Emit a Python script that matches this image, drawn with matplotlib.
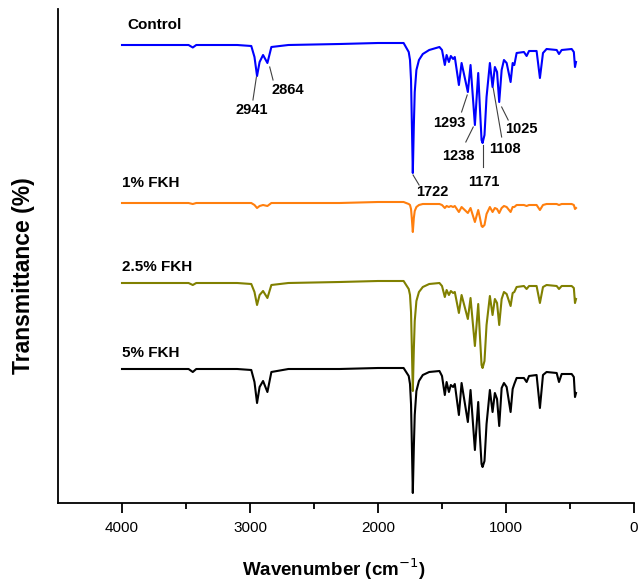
import matplotlib
matplotlib.use('Agg')
import matplotlib.pyplot as plt
import numpy as np

plt.rcParams['font.family'] = ['Liberation Sans', 'DejaVu Sans']

# wavenumber of the read-off points (cm-1)
wn = [4000, 3700, 3480, 3447, 3420, 3100, 2990, 2965, 2945, 2925, 2898, 2864, 2833,
      2700, 2300, 2000, 1800, 1760, 1750, 1742, 1736, 1728, 1720, 1713, 1700, 1680,
      1650, 1600, 1520, 1500, 1478, 1464, 1446, 1431, 1413, 1400, 1368, 1347, 1298,
      1277, 1243, 1217, 1205, 1191, 1183, 1168, 1152, 1126, 1105, 1087, 1070, 1053,
      1034, 1016, 995, 964, 948, 935, 917, 860, 839, 820, 761, 735, 711, 683, 604,
      586, 565, 487, 470, 461, 453]

# band depth below each trace's baseline (a.u.)
control = [0, 0, 0, 2.5, 0, 0, 1, 12, 31, 17, 10, 18, 2,
           0, -1, -2, -2, 7, 15, 35, 75, 128, 80, 47, 25, 15,
           9, 5, 2, 5, 20, 10, 17, 11, 14, 12, 40, 18, 47,
           20, 80, 28, 60, 95, 98, 90, 52, 18, 42, 22, 27, 57,
           25, 15, 18, 37, 18, 20, 8, 7, 11, 6, 6, 33, 8, 4, 5,
           9, 5, 4, 7, 22, 17]
fkh_1 = [0, 0, 0, 1, 0, 0, 0, 2, 5, 3, 2, 3, 0,
         0, 0, -1, -1, 1, 2, 6, 15, 29, 15, 8, 4, 2,
         1, 1, 1, 2, 5, 3, 4, 3, 4, 3, 9, 4, 10,
         5, 19, 7, 14, 23, 24, 22, 11, 4, 9, 5, 6, 10,
         5, 3, 4, 9, 4, 4, 2, 2, 3, 2, 2, 7, 2, 1, 1,
         2, 1, 1, 2, 6, 5]
fkh_25 = [0, 0, 0, 2, 0, 0, 1, 9, 22, 12, 8, 15, 2,
          0, -1, -2, -2, 6, 12, 29, 62, 108, 66, 38, 18, 9,
          4, 1, 0, 3, 14, 7, 12, 8, 10, 9, 30, 12, 36,
          15, 63, 21, 50, 82, 85, 78, 42, 13, 32, 16, 20, 42,
          16, 9, 11, 23, 10, 9, 4, 3, 6, 3, 3, 20, 4, 2, 3,
          6, 3, 3, 5, 20, 16]
fkh_5 = [0, 0, 0, 3, 0, 0, 1, 13, 34, 18, 12, 23, 3,
         0, 0, -1, -1, 7, 15, 35, 72, 124, 78, 46, 22, 12,
         6, 3, 2, 7, 26, 13, 23, 16, 18, 15, 46, 14, 53,
         21, 81, 33, 65, 95, 98, 92, 55, 21, 43, 24, 30, 57,
         19, 14, 18, 43, 20, 15, 9, 9, 13, 7, 6, 39, 6, 3, 4,
         13, 5, 5, 8, 28, 24]

names = ['Control', '1% FKH', '2.5% FKH', '5% FKH']
colors = ['#0000FF', '#FF7F0E', '#808000', '#000000']
offsets = [458, 300, 220, 134]

# peak labels: text, peak (wn, y), label (wn, y)
peak_txt = ['2941', '2864', '1722', '1293', '1238', '1171', '1108', '1025']
peak_from = [(2950, 426), (2846, 436), (1726, 328), (1303, 408), (1256, 376),
             (1183, 358), (1100, 415), (1034, 396)]
peak_to = [(2977, 403), (2820, 423), (1679, 318), (1347, 391), (1314, 361),
           (1183, 336), (1034, 366), (983, 383)]
peak_lab = [(2987, 393), (2705, 413), (1572, 311), (1439, 380), (1376, 347),
            (1173, 321), (1009, 354), (876, 374)]

fig = plt.figure(figsize=(6.38, 5.81), dpi=100)
ax = fig.add_axes([58/638, 78/581, 576/638, 494/581])

for data, name, c, off in zip([control, fkh_1, fkh_25, fkh_5], names, colors, offsets):
    y = off - np.array(data, dtype=float)
    ax.plot(wn, y, color=c, lw=1.5, solid_joinstyle='round')

ax.text(3956, 478, 'Control', fontsize=11, fontweight='bold', va='center', ha='left')
ax.text(4003, 320, '1% FKH', fontsize=11, fontweight='bold', va='center', ha='left')
ax.text(4003, 236, '2.5% FKH', fontsize=11, fontweight='bold', va='center', ha='left')
ax.text(4003, 150, '5% FKH', fontsize=11, fontweight='bold', va='center', ha='left')

for t, p0, p1, pl in zip(peak_txt, peak_from, peak_to, peak_lab):
    ax.plot([p0[0], p1[0]], [p0[1], p1[1]], color='#404040', lw=0.8)
    ax.text(pl[0], pl[1], t, fontsize=10.5, fontweight='bold', ha='center', va='center')

ax.set_xlim(4500, 0)
ax.set_ylim(0, 494)
ax.set_xticks([4000, 3000, 2000, 1000, 0])
ax.set_xticks([3500, 2500, 1500, 500], minor=True)
ax.tick_params(axis='x', which='major', length=7, width=1.3, labelsize=11, pad=6)
ax.tick_params(axis='x', which='minor', length=4.5, width=1.3)
ax.tick_params(axis='y', left=False, labelleft=False)
for s in ['top', 'right']:
    ax.spines[s].set_visible(False)
for s in ['left', 'bottom']:
    ax.spines[s].set_linewidth(1.3)

ax.set_xlabel('Wavenumber (cm$^{-1}$)', fontsize=13.5, fontweight='bold')
ax.xaxis.set_label_coords(0.479, -0.108)
ax.set_ylabel('Transmittance (%)', fontsize=16.5, fontweight='bold')
ax.yaxis.set_label_coords(-0.04, 0.46)

fig.savefig('out.png', dpi=100)
